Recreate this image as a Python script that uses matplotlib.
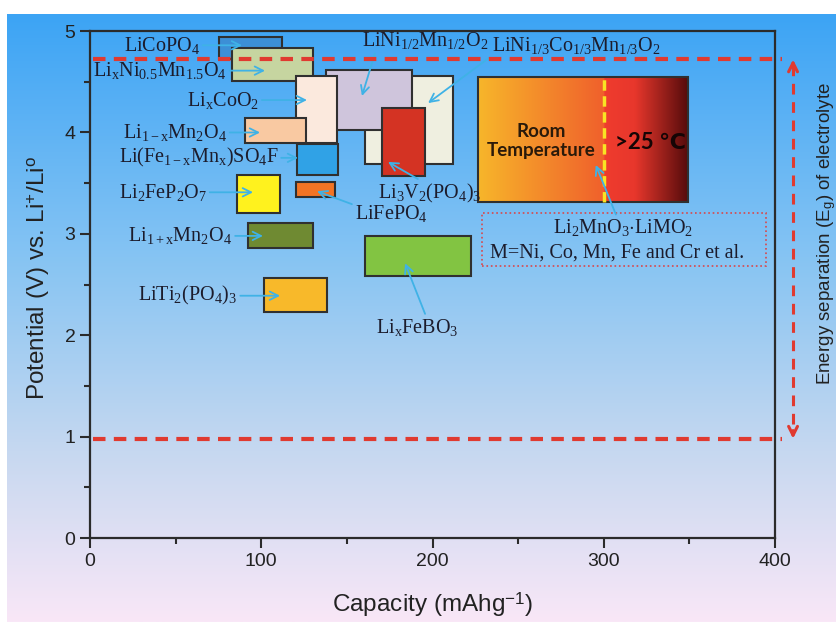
import numpy as np
import matplotlib.pyplot as plt
from matplotlib.patches import Rectangle
from matplotlib.colors import LinearSegmentedColormap, to_rgb

plt.rcParams['font.family'] = ['Liberation Sans', 'DejaVu Sans']
plt.rcParams['mathtext.fontset'] = 'custom'
plt.rcParams['mathtext.rm'] = 'Liberation Serif'
plt.rcParams['mathtext.it'] = 'Liberation Serif:italic'
plt.rcParams['mathtext.bf'] = 'Liberation Serif:bold'
plt.rcParams['mathtext.sf'] = 'Liberation Sans'

# cathode materials, drawn in this order (later ones on top)
materials = ['LiCoPO4', 'LixNi0.5Mn1.5O4', 'LiNi1/3Co1/3Mn1/3O2', 'LiNi1/2Mn1/2O2',
             'LixCoO2', 'Li3V2(PO4)3', 'Li1-xMn2O4', 'Li(Fe1-xMnx)SO4F', 'Li2FeP2O7',
             'LiFePO4', 'Li1+xMn2O4', 'LiTi2(PO4)3', 'LixFeBO3']
cap_lo = [75.3, 83, 160.6, 138, 120, 170.5, 90.5, 121, 86, 120, 92, 101.6, 160.6]
cap_hi = [112, 130, 212, 188, 144, 195.6, 126, 145, 111, 143, 130, 138.4, 222.5]
volt_lo = [4.72, 4.51, 3.69, 4.02, 3.90, 3.57, 3.90, 3.58, 3.21, 3.36, 2.86, 2.23, 2.58]
volt_hi = [4.94, 4.83, 4.56, 4.62, 4.56, 4.24, 4.14, 3.89, 3.58, 3.51, 3.11, 2.56, 2.98]
box_colors = ['#3c8fd6', '#c6d5a0', '#efefe0', '#cfc5dc', '#fbe9dd', '#d43323', '#f9c9a2',
              '#30a2e6', '#fff21e', '#f27424', '#6f8a32', '#f8b92a', '#82c442']

# mathtext labels, where they sit and where their arrow points
labels = [r'$\mathrm{LiCoPO_4}$', r'$\mathrm{Li_xNi_{0.5}Mn_{1.5}O_4}$',
          r'$\mathrm{LiNi_{1/3}Co_{1/3}Mn_{1/3}O_2}$', r'$\mathrm{LiNi_{1/2}Mn_{1/2}O_2}$',
          r'$\mathrm{Li_xCoO_2}$', r'$\mathrm{Li_3V_2(PO_4)_3}$', r'$\mathrm{Li_{1-x}Mn_2O_4}$',
          r'$\mathrm{Li(Fe_{1-x}Mn_x)SO_4F}$', r'$\mathrm{Li_2FeP_2O_7}$', r'$\mathrm{LiFePO_4}$',
          r'$\mathrm{Li_{1+x}Mn_2O_4}$', r'$\mathrm{LiTi_2(PO_4)_3}$', r'$\mathrm{Li_xFeBO_3}$']
label_x = [42, 40.9, 283.8, 195.6, 77.7, 198.5, 49.6, 63.4, 42.6, 175.8, 52.8, 57.2, 191]
label_y = [4.86, 4.61, 4.86, 4.91, 4.32, 3.40, 4.00, 3.75, 3.41, 3.20, 2.98, 2.39, 2.08]
tip_x = [88.8, 102.2, 197.4, 158.8, 126.7, 174, 99.3, 121.5, 95.2, 132.6, 101, 111, 184]
tip_y = [4.86, 4.61, 4.29, 4.36, 4.32, 3.71, 4.00, 3.75, 3.41, 3.42, 2.98, 2.39, 2.71]
rel_pos = [(0.5, 0.5), (0.5, 0.5), (0, 0), (0.11, 0), (0.5, 0.5), (0.43, 1), (0.5, 0.5),
           (0.5, 0.5), (0.5, 0.5), (0, 0.9), (0.5, 0.5), (0.5, 0.5), (0.61, 1)]

# Li2MnO3-LiMO2 region (room temperature up to 300 mAh/g, more above 25 C)
hot_cap = [226.6, 349]
hot_volt = [3.31, 4.55]
rt_limit = 300
note_box_cap = [229, 395]
note_box_volt = [2.68, 3.21]
note_tip = (295.3, 3.68)

# electrolyte window
e_top = 4.72
e_bottom = 0.98

fig = plt.figure(figsize=(8.37, 6.22), dpi=100)
fig.patch.set_facecolor('white')

bg = fig.add_axes([7 / 837, 0, 1 - 7 / 837, 608 / 622])
bg.axis('off')
bg_cmap = LinearSegmentedColormap.from_list(
    'bg', [(0, '#3ca4f5'), (0.4, '#86c4f3'), (0.72, '#c6d8f0'), (1, '#f9e7f7')])
bg.imshow(np.linspace(0, 1, 256).reshape(-1, 1), cmap=bg_cmap, aspect='auto',
          extent=[0, 1, 0, 1])
bg.set_zorder(-5)

ax = fig.add_axes([0.1075, 0.135, 0.8185, 0.815])
ax.set_facecolor('none')

for i in range(len(materials)):
    ax.add_patch(Rectangle((cap_lo[i], volt_lo[i]), cap_hi[i] - cap_lo[i],
                           volt_hi[i] - volt_lo[i], facecolor=box_colors[i],
                           edgecolor='#303030', lw=1.5, zorder=2 + i * 0.01))

# gradient block
gx = np.linspace(hot_cap[0], hot_cap[1], 500)
stop_x = [hot_cap[0], rt_limit, rt_limit + 0.5, rt_limit + 18, hot_cap[1]]
stop_c = [to_rgb(c) for c in ['#f7b62a', '#f0602c', '#ef3c2e', '#e8372c', '#560c0c']]
img = np.zeros((1, len(gx), 3))
for ch in range(3):
    img[0, :, ch] = np.interp(gx, stop_x, [c[ch] for c in stop_c])
ax.imshow(img, extent=[hot_cap[0], hot_cap[1], hot_volt[0], hot_volt[1]],
          aspect='auto', zorder=3, interpolation='bilinear')
ax.add_patch(Rectangle((hot_cap[0], hot_volt[0]), hot_cap[1] - hot_cap[0],
                       hot_volt[1] - hot_volt[0], facecolor='none',
                       edgecolor='#303030', lw=1.5, zorder=3.1))
ax.plot([rt_limit, rt_limit], hot_volt, color='#f8e424', lw=2.5, dashes=(3, 1.6),
        zorder=3.2)
ax.text((hot_cap[0] + rt_limit) / 2, 3.915, 'Room\nTemperature', ha='center',
        va='center', fontsize=13.5, fontweight='bold', family=['Lato', 'DejaVu Sans'],
        color='#2a1a0a', linespacing=1.15, zorder=4)
ax.text(327, 3.9, '>25 \u2103', ha='center', va='center', fontsize=16,
        fontweight='bold', family=['Lato', 'DejaVu Sans'], color='#150505', zorder=4)

ax.add_patch(Rectangle((note_box_cap[0], note_box_volt[0]),
                       note_box_cap[1] - note_box_cap[0],
                       note_box_volt[1] - note_box_volt[0], facecolor='none',
                       edgecolor='#d9474a', lw=1.2, ls=':', zorder=3))
arrow_kw = dict(arrowstyle='->', color='#3fb2e6', lw=1.3, shrinkA=0, shrinkB=0,
                mutation_scale=15)
ax.annotate(r'$\mathrm{Li_2MnO_3{\cdot}LiMO_2}$', xy=note_tip, xytext=(311, 3.06),
            ha='center', va='center', fontsize=14.5, color='#1c1c2c', zorder=5,
            arrowprops=dict(arrow_kw, relpos=(0.46, 1)))
ax.text(308, 2.81, 'M=Ni, Co, Mn, Fe and Cr et al.', ha='center', va='center',
        fontsize=14.5, family='Liberation Serif', color='#1c1c2c', zorder=5)

for i in range(len(labels)):
    ax.annotate(labels[i], xy=(tip_x[i], tip_y[i]), xytext=(label_x[i], label_y[i]),
                ha='center', va='center', fontsize=14.5, color='#1c1c2c', zorder=5,
                annotation_clip=False,
                arrowprops=dict(arrow_kw, relpos=rel_pos[i]))

# electrolyte stability window
red = '#e03a30'
ax.plot([2, 404], [e_top, e_top], color=red, lw=3, dashes=(3, 2), clip_on=False,
        zorder=6)
ax.plot([2, 404], [e_bottom, e_bottom], color=red, lw=3, dashes=(3, 2),
        clip_on=False, zorder=6)
ax.plot([410.5, 410.5], [e_top - 0.05, e_bottom + 0.05], color=red, lw=2.2,
        dashes=(3.5, 2.5), clip_on=False, zorder=6)
head_kw = dict(arrowstyle='->', color=red, lw=2.2, shrinkA=0, shrinkB=0,
               mutation_scale=16)
ax.annotate('', xy=(410.5, e_top), xytext=(410.5, e_top - 0.08),
            arrowprops=head_kw, annotation_clip=False)
ax.annotate('', xy=(410.5, e_bottom), xytext=(410.5, e_bottom + 0.08),
            arrowprops=head_kw, annotation_clip=False)
ax.text(1.0745, 0.60, r'Energy separation (E$_{\mathsf{g}}$) of electrolyte',
        transform=ax.transAxes, rotation=90, ha='center', va='center', fontsize=13.5,
        color='#222222')

ax.set_xlim(0, 400)
ax.set_ylim(0, 5)
ax.set_xticks([0, 100, 200, 300, 400])
ax.set_xticks([50, 150, 250, 350], minor=True)
ax.set_yticks([0, 1, 2, 3, 4, 5])
ax.set_yticks([0.5, 1.5, 2.5, 3.5, 4.5], minor=True)
ax.tick_params(which='both', direction='out', width=1.5, color='#2b2b2b',
               labelsize=14, labelcolor='#222222')
ax.tick_params(which='major', length=7)
ax.tick_params(which='minor', length=4)
for s in ax.spines.values():
    s.set_linewidth(1.6)
    s.set_color('#2b2b2b')

ax.set_xlabel(r'Capacity (mAhg$^{\mathsf{-1}}$)', fontsize=17.5, color='#222222')
ax.xaxis.set_label_coords(0.5, -0.132)
ax.xaxis.label.set_va('center')
ax.set_ylabel(r'Potential (V) vs. Li$^{\mathsf{+}}$/Li$^{\mathsf{o}}$', fontsize=17.5,
              color='#222222')
ax.yaxis.set_label_coords(-0.075, 0.513)
ax.yaxis.label.set_va('center')

fig.savefig('out.png', dpi=100)
